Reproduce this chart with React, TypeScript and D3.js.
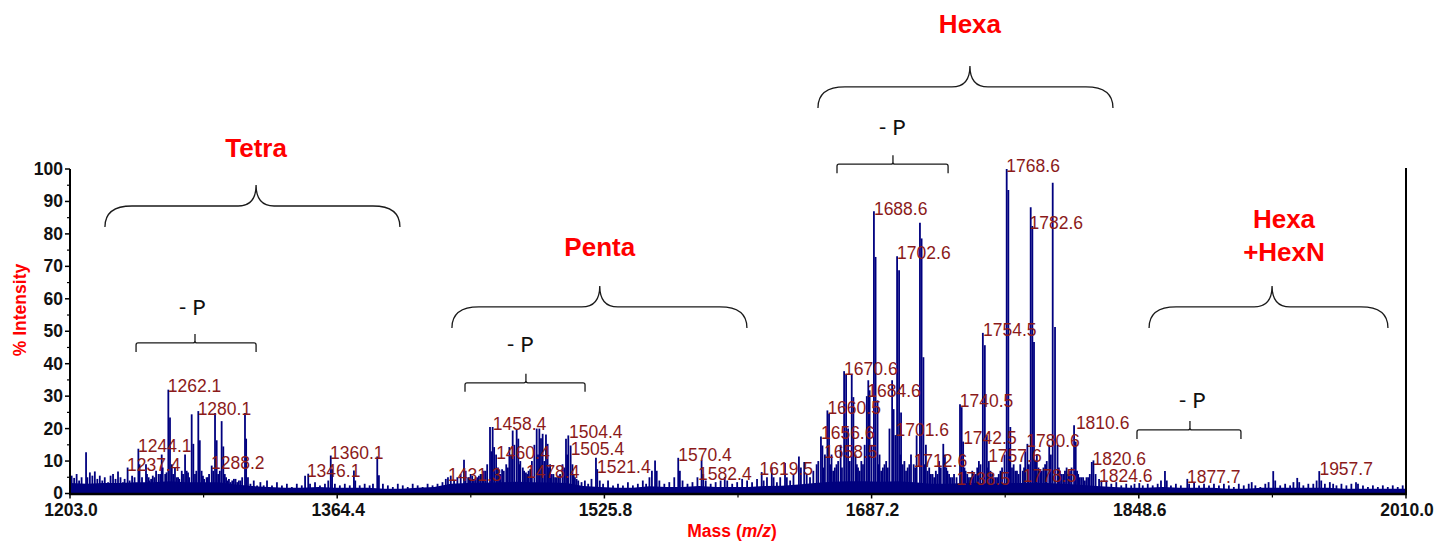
import React from 'react';
import * as d3 from 'd3';

const W = 1436;
const H = 541;

// Axis definitions
const xDomain: [number, number] = [1203.0, 2010.0];
const xTickValues = [1203.0, 1364.4, 1525.8, 1687.2, 1848.6, 2010.0];
const yTickValues = [0, 10, 20, 30, 40, 50, 60, 70, 80, 90, 100];
const yMinorTickValues = [5, 15, 25, 35, 45, 55, 65, 75, 85, 95];

// Baseline (noise floor) level of the spectrum, [m/z, % intensity]
const floorLevels: [number, number][] = [
  [1203, 3.2], [1213, 3], [1223, 3.2], [1233, 3.2], [1243, 3.5], [1253, 3.5], [1263, 3.8], [1273, 3.5], [1283, 3.5], [1293, 3.5],
  [1303, 2.8], [1313, 2.3], [1323, 2], [1333, 1.8], [1343, 1.8], [1353, 2], [1363, 1.8], [1373, 1.8], [1383, 1.8], [1393, 1.5],
  [1403, 1.5], [1413, 1.8], [1423, 2], [1433, 3], [1443, 3.2], [1453, 3.3], [1463, 3.5], [1473, 3.6], [1483, 3.5], [1493, 3.4],
  [1503, 3.2], [1513, 2.3], [1523, 2], [1533, 1.8], [1543, 1.8], [1553, 2.2], [1563, 2], [1573, 2], [1583, 2.3], [1593, 2],
  [1603, 2], [1613, 2], [1623, 2.3], [1633, 2.4], [1643, 2.8], [1653, 3.2], [1663, 3.6], [1673, 3.8], [1683, 3.8], [1693, 3.6],
  [1703, 3.8], [1713, 3.5], [1723, 3], [1733, 3], [1743, 3.2], [1753, 3.2], [1763, 3], [1773, 3.2], [1783, 3.2], [1793, 3.2],
  [1803, 3], [1813, 2.7], [1823, 2.3], [1833, 2], [1843, 1.8], [1853, 1.8], [1863, 2], [1873, 1.8], [1883, 1.8], [1893, 1.8],
  [1903, 1.5], [1913, 1.5], [1923, 1.8], [1933, 1.8], [1943, 1.8], [1953, 1.8], [1963, 1.8], [1973, 1.5], [1983, 1.5], [1993, 1.5],
  [2003, 1.5], [2010, 1.5],
];

// Tetra region peaks [m/z, % intensity]
const tetraPeaks: [number, number][] = [
  [1204, 5.5], [1205.5, 4.8], [1207, 6], [1208.5, 4], [1210, 5], [1212.7, 12.7], [1213.5, 5], [1215, 6.5], [1216.5, 5.5], [1218, 6.8],
  [1219.5, 4.5], [1221, 5.5], [1222.5, 4], [1224, 5], [1226, 3.5], [1227.5, 5.5], [1229, 6], [1230.5, 4.5], [1232, 6.8], [1233.5, 5],
  [1235, 3.5], [1236, 4.5], [1237.8, 8], [1239, 4], [1240.5, 5.5], [1242, 5], [1244.3, 13.8], [1245, 9], [1246.5, 5], [1248.9, 9],
  [1249.5, 6], [1250.5, 5], [1251, 4], [1252, 4.5], [1253, 5.5], [1254, 5], [1255, 7], [1256.5, 6], [1257.5, 6], [1258.4, 12],
  [1259, 8], [1260.5, 6], [1261.3, 6.5], [1262.4, 32], [1263.4, 23.4], [1264.5, 9], [1265.3, 6], [1266.4, 8], [1267.5, 5], [1268.3, 5],
  [1269, 4.5], [1270.5, 7], [1271.3, 6], [1272.5, 12], [1273.5, 7], [1274.3, 6.5], [1275, 5], [1276.5, 24.4], [1277.5, 15.3], [1278.5, 6],
  [1279.3, 7], [1280.5, 25.4], [1281.4, 16.4], [1282.5, 7], [1283.3, 5.5], [1284, 4.5], [1285.5, 5], [1286.3, 5], [1287, 6], [1288.6, 8.6],
  [1289.5, 7], [1290.6, 24.8], [1291.6, 16.4], [1292.5, 6], [1293.5, 7], [1294.6, 22.3], [1295.6, 14.5], [1296.5, 6], [1297.3, 5], [1298, 4],
  [1299, 4.5], [1300, 3.5], [1301, 4], [1302, 4.5], [1303, 4.5], [1304, 3.5], [1305, 4], [1306, 4], [1307, 5], [1308.7, 24.8],
  [1309.4, 16.9], [1310.5, 5], [1312, 3], [1314, 4], [1316, 2.5], [1318, 3.5], [1320, 2.5], [1322, 4], [1325, 2.5], [1328, 3.5],
  [1331, 2.5], [1334, 3], [1337, 2], [1340, 3], [1343, 2.5], [1345, 5.5], [1346.9, 6.1], [1348, 3], [1351, 3.5], [1354, 2.5],
  [1357, 3], [1359, 4], [1360.5, 11.7], [1361.3, 7.5], [1363, 3], [1366, 2.5], [1369, 3], [1372, 2.5], [1374.5, 7.1], [1375.3, 4],
  [1378, 2.5], [1381, 3], [1384, 2.5], [1386, 3], [1388.6, 11.4], [1389.6, 5.6], [1392, 3], [1395, 2.5], [1398, 2], [1401, 3],
  [1404, 2.5], [1407, 2], [1410, 3], [1413, 2.5], [1416, 2], [1419, 3], [1422, 2.5], [1425, 3],
];

// Penta region peaks
const pentaPeaks: [number, number][] = [
  [1428, 3.5], [1430, 4.5], [1431.3, 5], [1433, 5.5], [1435, 4], [1437, 5], [1439, 6], [1441, 10.4], [1442, 7], [1443.5, 5],
  [1444.3, 5], [1445, 6], [1446, 5.5], [1447, 4.5], [1448, 5], [1449, 5], [1450, 5.5], [1451, 6], [1452, 6], [1453, 7],
  [1454, 7], [1455, 9], [1456.7, 20.5], [1457.5, 13], [1458.3, 20.5], [1459.2, 14.3], [1460.4, 12], [1461.5, 8], [1462.3, 6], [1463, 6],
  [1464, 7.5], [1465, 7], [1466.5, 9], [1467.5, 8], [1468.4, 14.3], [1469.4, 12], [1470.4, 19.4], [1471.4, 15], [1472.8, 19.7], [1473.8, 16.9],
  [1474.5, 9], [1475, 10], [1476.5, 8], [1477.3, 7], [1478.4, 6.5], [1479.2, 6], [1480, 7], [1481, 7.5], [1482, 10], [1483.5, 15],
  [1484.9, 20], [1485.7, 12], [1486.5, 20], [1487.5, 17], [1488.5, 18.4], [1489.5, 10], [1490.5, 18.2], [1491.5, 15.3], [1492.3, 8], [1493, 9],
  [1494, 6], [1495, 6], [1496, 5], [1497, 5], [1498, 5.5], [1499, 6], [1500.5, 9], [1501.5, 8], [1502.6, 16.9], [1503.3, 12],
  [1504, 17.9], [1505.4, 14.8], [1506.5, 9], [1507.3, 6], [1508, 5], [1509, 4.5], [1510, 4], [1512, 3.5], [1514, 4], [1516, 3],
  [1518, 4.5], [1520.7, 11], [1521.5, 7.5], [1523, 4], [1525, 3], [1528, 4], [1531, 2.5], [1534, 3], [1537, 2.5], [1540, 3.5],
  [1543, 2.5], [1546, 3], [1549, 4], [1551, 3], [1553, 5], [1554.5, 7], [1556.4, 10.2], [1557.4, 7], [1559, 4], [1562, 3],
  [1565, 3.5], [1568, 5], [1570.4, 11], [1571.4, 7], [1573, 4], [1576, 3], [1579, 3.5], [1582, 5], [1584.5, 10.2], [1585.5, 6],
  [1587, 4], [1590, 3], [1593, 3.5], [1596, 4], [1598.5, 5], [1600, 4], [1603, 3], [1606, 3.5], [1609, 4.5], [1612, 4],
  [1615, 3.5], [1618, 4.5], [1620.8, 6.6], [1622, 4], [1624, 5], [1626.9, 8.1], [1628, 5], [1630, 3.5], [1632, 5], [1634.9, 9.4],
  [1636, 5], [1638, 4], [1640, 6], [1643.3, 11.4], [1644.5, 8], [1646.5, 9.7], [1648, 6], [1650, 5], [1652, 7], [1654, 9],
];

// Hexa and Hexa+HexN region peaks
const hexaPeaks: [number, number][] = [
  [1655, 10], [1656.6, 17.6], [1657.5, 14.8], [1658.2, 8], [1659, 12], [1660.5, 25.6], [1661.5, 24.6], [1662.3, 9], [1663, 12], [1664, 7],
  [1665, 8], [1666, 9], [1667, 10], [1668.5, 15], [1669.3, 8], [1670.6, 37.7], [1671.8, 36.7], [1673, 20], [1674, 10], [1675.2, 36.7],
  [1676.2, 29.7], [1677.5, 12], [1678.3, 9], [1679, 8], [1680, 7], [1681, 10], [1682, 9], [1683, 15], [1684.3, 30], [1685.2, 34.9],
  [1686, 31.8], [1687.2, 15], [1688.6, 87], [1689.6, 72.9], [1690.8, 28.7], [1691.5, 9], [1692, 12], [1693, 7], [1694, 8], [1695, 9],
  [1696, 10], [1697, 8], [1698, 20], [1699.6, 34.9], [1700.5, 26], [1701.6, 18], [1702.6, 73.1], [1703.8, 68.8], [1704.5, 12], [1705, 25],
  [1706, 9], [1707, 10], [1708, 7], [1709, 8], [1710, 9], [1711, 12], [1712.6, 9], [1713.5, 8], [1714.4, 17.9], [1716.4, 83.4],
  [1717.4, 78.6], [1718.5, 42], [1719.3, 9], [1720, 15], [1721, 7], [1722, 8], [1723, 6], [1724, 6], [1725, 5], [1726, 7],
  [1727, 6], [1728, 10], [1729, 8], [1730.5, 15.3], [1731.5, 12], [1732.3, 8], [1733, 7], [1734, 6], [1735, 5], [1736, 5],
  [1737, 6], [1738.5, 5], [1740.6, 27.5], [1741.6, 26.6], [1742.5, 16], [1743.3, 8], [1744, 7], [1745, 6], [1746, 5], [1747, 5],
  [1748, 7], [1749, 6], [1750, 6], [1751, 8], [1752, 10], [1753, 9], [1754.4, 49.5], [1755.6, 45.7], [1756.8, 18], [1757.5, 8],
  [1758, 10], [1759, 7], [1760, 6], [1761, 5], [1762, 5], [1763, 5], [1764, 6], [1765, 7], [1766, 8], [1767.5, 12],
  [1768.8, 100], [1769.8, 93.5], [1770.5, 14], [1771, 20.5], [1772, 8], [1773, 9], [1774, 7], [1775, 7], [1776, 6], [1777, 9],
  [1778.5, 7], [1779.3, 8], [1780, 13], [1781.3, 15.3], [1782.2, 9], [1783.3, 88.2], [1784.3, 82.4], [1785.3, 46.7], [1786, 10], [1787, 12],
  [1788, 8], [1789, 7], [1790, 7], [1791, 8], [1792, 9], [1793, 10], [1794.5, 15], [1795.5, 12], [1796.6, 95.8], [1798, 51.3],
  [1799.5, 15], [1800.3, 8], [1801, 7], [1802, 6], [1803, 6], [1804, 7], [1805, 8], [1806, 6], [1807, 7], [1808, 8],
  [1809.5, 21], [1810.5, 16], [1811.3, 7], [1812, 6], [1813, 5], [1814, 5], [1815, 5], [1816, 4], [1817, 5], [1818, 5],
  [1819, 6], [1820.2, 9.7], [1821.2, 10.2], [1822.5, 6], [1824.6, 4.5], [1826, 4], [1829, 4], [1832, 3], [1835, 3.5], [1838, 2.5],
  [1841, 3], [1844, 2.5], [1846, 3], [1848.9, 3.2], [1851, 2.5], [1854, 3], [1857, 2.5], [1860, 3], [1862, 4], [1864.4, 6.9],
  [1865.5, 4], [1868, 2.5], [1871, 3], [1874, 2.5], [1877.9, 4.5], [1879, 3], [1882, 3.5], [1885, 2.5], [1888, 3], [1891, 2.5],
  [1894, 3], [1897, 2.5], [1900, 3], [1903, 2.5], [1906, 2], [1909, 3], [1912, 2.5], [1915, 3], [1916.8, 3.5], [1919, 2.5],
  [1922, 2], [1925, 3], [1927, 3.5], [1929.8, 6.9], [1931, 4], [1934, 2.5], [1937, 3], [1940, 2.5], [1942, 3.5], [1944.3, 4.8],
  [1945.5, 3.5], [1948, 2.5], [1951, 3], [1954, 3], [1956, 4], [1957.6, 6.9], [1958.8, 4], [1961, 3], [1964, 3.5], [1966, 3],
  [1968, 2.5], [1971, 3], [1974, 2.5], [1977, 3], [1979.8, 3.5], [1981, 3], [1984, 2.5], [1987, 2], [1990, 2.5], [1993, 2],
  [1996, 2.5], [1999, 2], [2002, 2.5], [2005, 2], [2008, 2.5],
];

// Peak labels: [label text (m/z), label level in % intensity]
const peakLabels: [string, number][] = [
  ['1237.4', 8.0], ['1244.1', 13.7], ['1262.1', 32.2], ['1280.1', 25.2], ['1288.2', 8.5], ['1346.1', 6.0], ['1360.1', 11.6],
  ['1431.3', 4.9], ['1458.4', 20.4], ['1460.4', 11.6], ['1478.4', 5.8], ['1504.4', 18.1], ['1505.4', 12.7], ['1521.4', 7.2],
  ['1570.4', 10.9], ['1582.4', 5.2], ['1619.5', 6.5], ['1656.6', 17.7], ['1658.5', 11.9], ['1660.5', 25.5], ['1670.6', 37.3],
  ['1684.6', 30.6], ['1688.6', 86.9], ['1701.6', 18.6], ['1702.6', 73.1], ['1712.6', 9.0], ['1738.5', 3.4], ['1740.5', 27.6],
  ['1742.5', 16.3], ['1754.5', 49.5], ['1757.6', 10.6], ['1768.6', 100], ['1778.5', 4.4], ['1780.6', 15.4], ['1782.6', 82.3],
  ['1810.6', 20.7], ['1820.6', 9.6], ['1824.6', 4.6], ['1877.7', 4.1], ['1957.7', 6.5],
];

// Group annotations: name lines, brace from/to/center (m/z), brace level (%), title center (m/z), title baseline levels (%)
const groupNames: string[][] = [['Tetra'], ['Penta'], ['Hexa'], ['Hexa', '+HexN']];
const groupBraces: [number, number, number, number][] = [
  [1224.1, 1402.3, 1315.4, 88.6],
  [1433.7, 1611.9, 1523.0, 57.5],
  [1654.8, 1833.0, 1746.6, 125.3],
  [1854.8, 1999.1, 1929.1, 57.5],
];
const groupTitlePos: [number, number[]][] = [
  [1315.4, [103.7]],
  [1523.0, [73.2]],
  [1746.6, [141.9]],
  [1936.3, [81.8, 71.6]],
];

// Phosphate loss ("- P") annotations: from, to, center (m/z), level (%), text center (m/z), text level (%)
const lossBraces: [number, number, number, number, number, number][] = [
  [1242.9, 1315.4, 1278.5, 46.4, 1276.7, 55.0],
  [1441.6, 1514.1, 1478.4, 34.1, 1474.8, 43.6],
  [1666.3, 1733.4, 1700.1, 101.5, 1699.5, 110.5],
  [1847.5, 1910.3, 1879.5, 19.6, 1880.7, 26.3],
];

const NAVY = '#00007f';
const LABEL_RED = '#8b1a1a';
const SANS = '"Liberation Sans", Arial, sans-serif';

function bigBrace(x1: number, x2: number, xc: number, yt: number): string {
  const yb = yt + 21;
  const yp = yt - 21;
  const r = 27;
  const r2 = 18;
  return `M${x1},${yb} Q${x1},${yt} ${x1 + r},${yt} L${xc - r2},${yt} Q${xc},${yt} ${xc},${yp} ` +
    `Q${xc},${yt} ${xc + r2},${yt} L${x2 - r},${yt} Q${x2},${yt} ${x2},${yb}`;
}

function smallBrace(x1: number, x2: number, xc: number, yt: number): string {
  const yb = yt + 9;
  const yp = yt - 9;
  return `M${x1},${yb} L${x1},${yt + 2} Q${x1},${yt} ${x1 + 2},${yt} L${xc - 2},${yt} Q${xc},${yt} ${xc},${yt - 2} L${xc},${yp} ` +
    `M${xc},${yt - 2} Q${xc},${yt} ${xc + 2},${yt} L${x2 - 2},${yt} Q${x2},${yt} ${x2},${yt + 2} L${x2},${yb}`;
}

export default function App() {
  const x = d3.scaleLinear().domain(xDomain).range([70, 1406]);
  const y = d3.scaleLinear().domain([0, 100]).range([493.5, 169]);
  const y0 = y(0);

  const allPeaks = [...tetraPeaks, ...pentaPeaks, ...hexaPeaks];

  const floorArea = d3
    .area<[number, number]>()
    .x((d) => x(d[0]))
    .y0(y0)
    .y1((d) => y(d[1]))
    .curve(d3.curveLinear)(floorLevels) as string;

  const xMinor = d3.pairs(xTickValues).map(([a, b]) => (a + b) / 2);

  return (
    <svg
      width={W}
      height={H}
      style={{ position: 'absolute', left: 0, top: 0, background: '#fff' }}
      xmlns="http://www.w3.org/2000/svg"
    >
      {/* spectrum */}
      <path d={floorArea} fill={NAVY} />
      <g stroke={NAVY} strokeWidth={1.8}>
        {allPeaks.map((p, i) => (
          <line key={i} x1={x(p[0])} x2={x(p[0])} y1={y0} y2={y(p[1])} />
        ))}
      </g>

      {/* axes */}
      <g stroke="#000" fill="none">
        <line x1={x(xDomain[0])} x2={x(xDomain[0])} y1={y(100)} y2={y0 + 1} strokeWidth={2} />
        <line x1={x(xDomain[1])} x2={x(xDomain[1])} y1={y(100) - 1} y2={y0 + 1} strokeWidth={2} />
        <line x1={x(xDomain[0]) - 1} x2={x(xDomain[1]) + 1} y1={y0 + 0.5} y2={y0 + 0.5} strokeWidth={2.5} />
        {yTickValues.map((t) => (
          <line key={'yt' + t} x1={x(xDomain[0]) - 5} x2={x(xDomain[0])} y1={y(t)} y2={y(t)} strokeWidth={1.5} />
        ))}
        {yMinorTickValues.map((t) => (
          <line key={'ym' + t} x1={x(xDomain[0]) - 3} x2={x(xDomain[0])} y1={y(t)} y2={y(t)} strokeWidth={1.2} />
        ))}
        {xTickValues.map((t) => (
          <line key={'xt' + t} x1={x(t)} x2={x(t)} y1={y0} y2={y0 + 5} strokeWidth={1.5} />
        ))}
        {xMinor.map((t) => (
          <line key={'xm' + t} x1={x(t)} x2={x(t)} y1={y0} y2={y0 + 4} strokeWidth={1.2} />
        ))}
      </g>
      <g fontFamily={SANS} fontWeight="bold" fontSize={17.5} fill="#111">
        {yTickValues.map((t) => (
          <text key={'yl' + t} x={63} y={y(t)} dy="0.34em" textAnchor="end">
            {t}
          </text>
        ))}
        {xTickValues.map((t) => (
          <text key={'xl' + t} x={x(t) + 1} y={516} textAnchor="middle">
            {t.toFixed(1)}
          </text>
        ))}
      </g>
      <text
        transform={`translate(25.5,310) rotate(-90)`}
        textAnchor="middle"
        fontFamily={SANS}
        fontWeight="bold"
        fontSize={17.5}
        fill="#ff0000"
      >
        % Intensity
      </text>
      <text x={732} y={537} textAnchor="middle" fontFamily={SANS} fontWeight="bold" fontSize={17.5} fill="#ff0000">
        Mass (<tspan fontStyle="italic">m/z</tspan>)
      </text>

      {/* peak labels */}
      <g fontFamily={SANS} fontSize={17.5} fill={LABEL_RED}>
        {peakLabels.map(([t, lv]) => (
          <text key={t} x={x(parseFloat(t))} y={y(lv) + 3}>
            {t}
          </text>
        ))}
      </g>

      {/* group braces */}
      <g fill="none" stroke="#1a1a1a" strokeWidth={1.3}>
        {groupBraces.map(([a, b, c, lv], i) => (
          <path key={'gb' + i} d={bigBrace(x(a), x(b), x(c), y(lv))} />
        ))}
        {lossBraces.map(([a, b, c, lv], i) => (
          <path key={'lb' + i} d={smallBrace(x(a), x(b), x(c), y(lv))} />
        ))}
      </g>
      <g fontFamily={SANS} fontWeight="bold" fontSize={26} fill="#ff0000" textAnchor="middle">
        {groupNames.map((lines, i) =>
          lines.map((line, j) => (
            <text key={'gn' + i + '_' + j} x={x(groupTitlePos[i][0])} y={y(groupTitlePos[i][1][j])}>
              {line}
            </text>
          ))
        )}
      </g>
      <g fontFamily='Lato, "Open Sans", sans-serif' fontSize={22} fill="#111" textAnchor="middle">
        {lossBraces.map((d, i) => (
          <text key={'lt' + i} x={x(d[4])} y={y(d[5])}>
            - P
          </text>
        ))}
      </g>
    </svg>
  );
}
